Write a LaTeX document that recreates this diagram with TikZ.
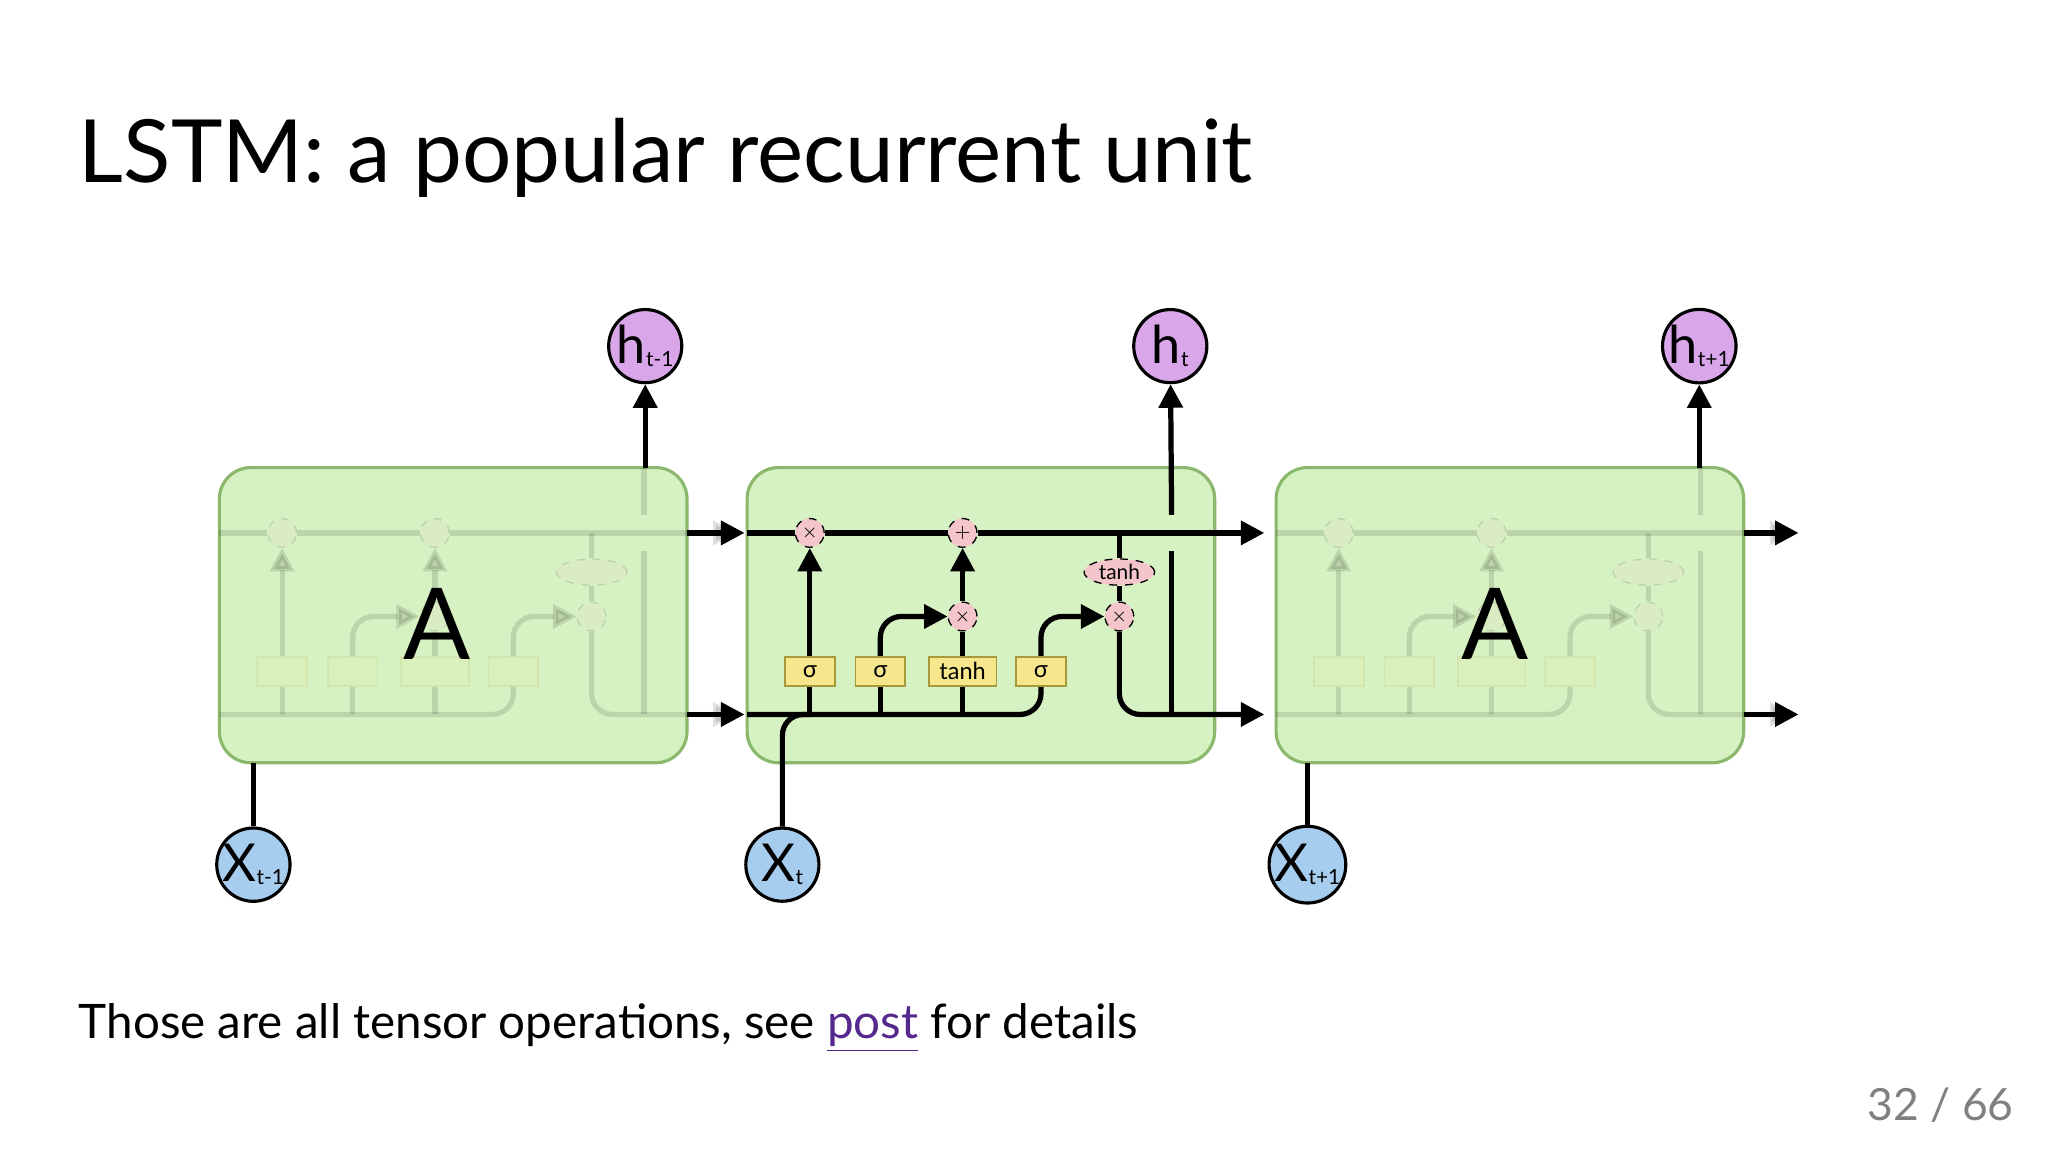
\documentclass[tikz,border=0pt]{standalone}
\usepackage{fontspec}
\setmainfont{Lato}
\usetikzlibrary{arrows.meta,shapes.geometric}
\pgfdeclarelayer{boxes}\pgfdeclarelayer{wires}\pgfdeclarelayer{paper}
\pgfsetlayers{paper,boxes,wires,main}
\definecolor{boxfill}{HTML}{D6F2C2}
\definecolor{boxline}{HTML}{8CB86E}
\definecolor{opfill}{HTML}{F4C6CB}
\definecolor{gatefill}{HTML}{F6E68C}
\definecolor{gateline}{HTML}{A89A3A}
\definecolor{hfill}{HTML}{D9A6EA}
\definecolor{xfill}{HTML}{A6CCEE}
\definecolor{linkc}{HTML}{55288E}
\tikzset{
  cellop/.style={},
  wire/.style={line width=2pt,black,cellop},
  arr/.style={wire,-{Triangle[length=9pt,width=9pt]}},
  op/.style={circle,draw,dashed,line width=0.5pt,fill=opfill,inner sep=0pt,minimum size=11pt,font=\fontsize{7}{7}\selectfont,cellop},
  gate/.style={rectangle,draw=gateline,line width=0.7pt,fill=gatefill,inner sep=0pt,minimum height=11pt,minimum width=19pt,font=\fontsize{9}{9}\selectfont,cellop},
  cell/.style={rounded corners=12pt,draw=boxline,line width=1.2pt,fill=boxfill},
  hnode/.style={circle,draw,line width=1.2pt,fill=hfill,minimum size=28pt,inner sep=0pt},
  xnode/.style={circle,draw,line width=1.2pt,fill=xfill,minimum size=28pt,inner sep=0pt},
}
\newcommand\glab[1]{#1}
\newcommand\vlab[2]{{\fontsize{20}{20}\selectfont #1}\raisebox{-1pt}{\fontsize{8}{8}\selectfont #2}}
\newcommand\cellinner[1]{%
  \node[op] (#1m1) at (620,408) {\glab{$\times$}};
  \node[op] (#1p) at (737,408) {\glab{$+$}};
  \node[op] (#1m2) at (737,472) {\glab{$\times$}};
  \node[op] (#1m3) at (857,472) {\glab{$\times$}};
  \node[op,ellipse,minimum width=27pt,minimum height=10pt,font=\fontsize{8}{8}\selectfont] (#1th) at (857,438) {\glab{tanh}};
  \node[gate] (#1g1) at (620,514) {\glab{σ}};
  \node[gate] (#1g2) at (674,514) {\glab{σ}};
  \node[gate,minimum width=26pt] (#1g3) at (737,514) {\glab{tanh}};
  \node[gate] (#1g4) at (797,514) {\glab{σ}};
  \coordinate (#1cin) at (572,408);
  \coordinate (#1cout) at (968,408);
  \coordinate (#1hin) at (572,547);
  \coordinate (#1hout) at (968,547);
  \coordinate (#1hlo) at (897,547);
  \coordinate (#1hmid) at (897,422);
  \coordinate (#1hmid2) at (897,394);
  \begin{pgfonlayer}{wires}
  \draw[wire] (#1cin) -- (#1m1);
  \draw[wire] (#1m1) -- (#1p);
  \draw[arr] (#1p) -- (#1cout);
  \draw[wire] (#1th) -- (#1th |- #1cin);
  \draw[wire] (#1th) -- (#1m3);
  \draw[arr,rounded corners=8pt] (#1m3.south) |- (#1hout);
  \draw[arr] (#1g1) -- (#1m1);
  \draw[wire] (#1g3) -- (#1m2);
  \draw[arr] (#1m2) -- (#1p);
  \draw[arr,rounded corners=8pt] (#1g2.north) |- (#1m2);
  \draw[arr,rounded corners=8pt] (#1g4.north) |- (#1m3);
  \draw[wire,rounded corners=8pt] (#1hin) -| (#1g4.south);
  \draw[wire] (#1g1.south) -- (#1g1.south |- #1hin);
  \draw[wire] (#1g2.south) -- (#1g2.south |- #1hin);
  \draw[wire] (#1g3.south) -- (#1g3.south |- #1hin);
  \draw[wire] (#1hlo) -- (#1hmid);
  \draw[wire] (#1hmid2) -- ++(0,-36);
  \end{pgfonlayer}
}
\begin{document}
\begin{tikzpicture}[x=0.5pt,y=-0.5pt]
\useasboundingbox (0,0) rectangle (1568,883);
\begin{pgfonlayer}{paper}
\fill[white] (0,0) rectangle (1568,883);
\end{pgfonlayer}
\node[anchor=base west,inner sep=0pt,font=\fontsize{33.4}{33.4}\selectfont] (title) at (60,140) {LSTM: a popular recurrent unit};
% boxes
\begin{pgfonlayer}{boxes}
\draw[cell] (168,358) rectangle (526,584);
\draw[cell] (572,358) rectangle (930,584);
\draw[cell] (977,358) rectangle (1335,584);
\end{pgfonlayer}
% middle cell
\cellinner{c}
% ghost cells
\begin{scope}[shift={(-404,0)}]
\renewcommand\glab[1]{}
\tikzset{cellop/.style={opacity=0.12}}
\cellinner{l}
\end{scope}
\begin{scope}[shift={(405,0)}]
\renewcommand\glab[1]{}
\tikzset{cellop/.style={opacity=0.12}}
\cellinner{r}
\end{scope}
\node[font=\fontsize{38}{38}\selectfont] (A1) at (335,478) {A};
\node[font=\fontsize{38}{38}\selectfont] (A2) at (1145,478) {A};
% circles
\node[hnode] (h1) at (494,265) {\vlab{h}{t-1}};
\node[hnode] (h2) at (896,265) {\vlab{h}{t}};
\node[hnode] (h3) at (1301,265) {\vlab{h}{t+1}};
\node[xnode] (x1) at (194,662) {\vlab{X}{t-1}};
\node[xnode] (x2) at (599,662) {\vlab{X}{t}};
\node[xnode] (x3) at (1001,662) {\vlab{X}{t+1}};
\coordinate (l1) at (494,358);
\coordinate (l3) at (1301,358);
\coordinate (b1) at (194,584);
\coordinate (b3) at (1001,584);
\coordinate (a1s) at (526,408);\coordinate (a1e) at (570,408);
\coordinate (a2s) at (526,547);\coordinate (a2e) at (570,547);
\coordinate (a3s) at (1335,408);\coordinate (a3e) at (1377,408);
\coordinate (a4s) at (1335,547);\coordinate (a4e) at (1377,547);
\begin{pgfonlayer}{wires}
\draw[arr] (l1) -- (h1);
\draw[arr] (l3) -- (h3);
\draw[arr] (chmid2) -- (h2);
\draw[wire] (x1) -- (b1);
\draw[wire] (x3) -- (b3);
\draw[wire,rounded corners=8pt] (x2) |- (cg1.south |- chin);
\draw[arr] (a1s) -- (a1e);
\draw[arr] (a2s) -- (a2e);
\draw[arr] (a3s) -- (a3e);
\draw[arr] (a4s) -- (a4e);
\end{pgfonlayer}
% bottom text
\node[anchor=base west,inner sep=0pt,font=\fontsize{18.2}{18.2}\selectfont] (note) at (60,795) {Those are all tensor operations, see \textcolor{linkc}{\underline{post}} for details};
\node[anchor=base east,inner sep=0pt,font=\fontsize{17}{17}\selectfont,text=gray] (page) at (1542,858) {32 / 66};
\end{tikzpicture}
\end{document}
